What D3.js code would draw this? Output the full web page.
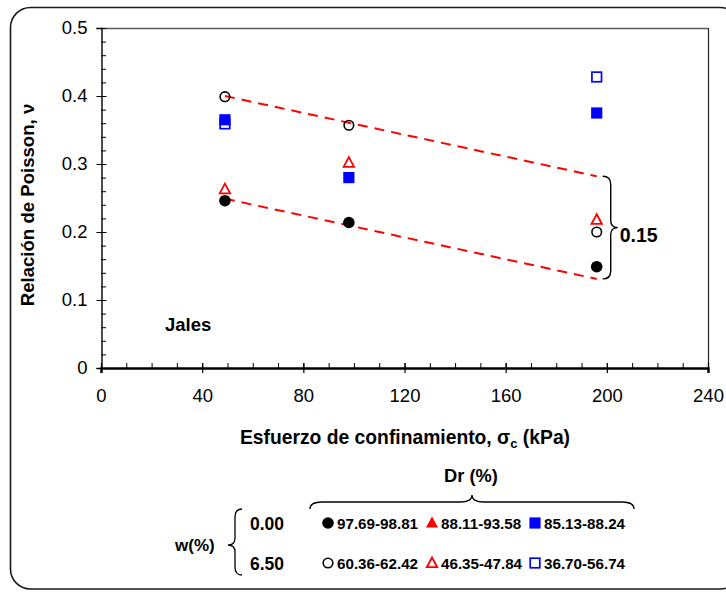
<!DOCTYPE html>
<html><head><meta charset="utf-8">
<script src="https://cdn.jsdelivr.net/npm/d3@7"></script>
<style>
html,body{margin:0;padding:0;background:#fff;}
svg{display:block;font-family:"Liberation Sans",Arial,sans-serif;}
</style></head>
<body><svg id="c" width="726" height="592"></svg>
<script>
// ---- data ----
const xTicks = [0, 40, 80, 120, 160, 200, 240];
const yTicks = [0, 0.1, 0.2, 0.3, 0.4, 0.5];
const sigma = [49, 98, 196];
const s_fillCircle = [0.246, 0.214, 0.149];      // w 0.00, Dr 97.69-98.81
const s_fillTri = [null, null, null];            // w 0.00, Dr 88.11-93.58 (not plotted)
const s_fillSquare = [0.365, 0.280, 0.375];      // w 0.00, Dr 85.13-88.24
const s_openCircle = [0.399, 0.357, 0.200];      // w 6.50, Dr 60.36-62.42
const s_openTri = [0.263, 0.302, 0.218];         // w 6.50, Dr 46.35-47.84
const s_openSquare = [0.359, null, 0.428];       // w 6.50, Dr 36.70-56.74
const trendUpper = [[49, 0.400], [196, 0.282]];
const trendLower = [[49, 0.249], [196, 0.131]];
const bracketLabel = "0.15";
const wLabels = ["0.00", "6.50"];
const drLabels = [["97.69-98.81", "88.11-93.58", "85.13-88.24"],
                  ["60.36-62.42", "46.35-47.84", "36.70-56.74"]];

const svg = d3.select("#c");
const L = 101, R = 708, T = 28, B = 368;
const x = d3.scaleLinear().domain([0, 240]).range([L, R]);
const y = d3.scaleLinear().domain([0, 0.5]).range([B, T]);

// outer rounded border
svg.append("rect").attr("x", 10.5).attr("y", 7.5).attr("width", 730).attr("height", 581.5)
  .attr("rx", 20).attr("fill", "none").attr("stroke", "#1a1a1a").attr("stroke-width", 1.6);

// plot frame (top & right)
svg.append("line").attr("x1", L).attr("x2", R).attr("y1", T + 0.5).attr("y2", T + 0.5)
  .attr("stroke", "#5a5a5a").attr("stroke-width", 1.4);
svg.append("line").attr("x1", R + 0.5).attr("x2", R + 0.5).attr("y1", T).attr("y2", B)
  .attr("stroke", "#222").attr("stroke-width", 1.2);

// minor ticks
const yMinor = d3.range(0, 0.5001, 0.02);
svg.append("g").attr("transform", `translate(${L},0)`)
  .call(d3.axisRight(y).tickValues(yMinor).tickSize(5).tickFormat(""))
  .call(g => { g.select(".domain").remove(); g.selectAll("line").attr("stroke", "#000"); });
const xMinor = d3.range(0, 240.01, 10);
svg.append("g").attr("transform", `translate(0,${B})`)
  .call(d3.axisTop(x).tickValues(xMinor).tickSize(5).tickFormat(""))
  .call(g => { g.select(".domain").remove(); g.selectAll("line").attr("stroke", "#000"); });

// major y axis
svg.append("g").attr("transform", `translate(${L + 0.5},0)`)
  .call(d3.axisLeft(y).tickValues(yTicks).tickSize(5).tickPadding(9)
    .tickFormat(d => d === 0 ? "0" : d3.format(".1f")(d)))
  .call(g => {
    g.select(".domain").attr("stroke", "#000").attr("stroke-width", 1.4);
    g.selectAll(".tick line").attr("x1", 5).attr("stroke", "#000");
    g.selectAll(".tick text").attr("font-size", 18.5).attr("fill", "#000")
      .attr("font-family", "Liberation Sans, Arial, sans-serif");
  });
// major x axis
svg.append("g").attr("transform", `translate(0,${B})`)
  .call(d3.axisBottom(x).tickValues(xTicks).tickSize(5).tickPadding(16))
  .call(g => {
    g.select(".domain").attr("stroke", "#000").attr("stroke-width", 2.4);
    g.selectAll(".tick line").attr("y1", -5).attr("stroke", "#000").attr("stroke-width", 1.2);
    g.selectAll(".tick text").attr("font-size", 18.5).attr("fill", "#000")
      .attr("font-family", "Liberation Sans, Arial, sans-serif");
  });

// axis titles
svg.append("text").attr("transform", `translate(34,205) rotate(-90)`)
  .attr("text-anchor", "middle").attr("font-size", 18.6).attr("font-weight", "bold")
  .text("Relación de Poisson, ν");
const xt = svg.append("text").attr("x", 405).attr("y", 444).attr("text-anchor", "middle")
  .attr("font-size", 19.3).attr("font-weight", "bold");
xt.append("tspan").text("Esfuerzo de confinamiento, σ");
xt.append("tspan").attr("font-size", 13).attr("dy", 4).text("c");
xt.append("tspan").attr("dy", -4).text(" (kPa)");

svg.append("text").attr("x", 165).attr("y", 331).attr("font-size", 18.5).attr("font-weight", "bold").text("Jales");

// trend lines
const line = d3.line().x(d => x(d[0])).y(d => y(d[1]));
[trendUpper, trendLower].forEach(t => {
  svg.append("path").attr("d", line(t)).attr("fill", "none").attr("stroke", "#ff0000")
    .attr("stroke-width", 2).attr("stroke-dasharray", "10,7");
});

// bracket for 0.15
{
  const xb = x(trendUpper[1][0]) + 6, yt = y(trendUpper[1][1]), yb = y(trendLower[1][1]);
  const ym = (yt + yb) / 2, w = 8;
  svg.append("path").attr("fill", "none").attr("stroke", "#000").attr("stroke-width", 1.4)
    .attr("d", `M${xb},${yt} Q${xb + w},${yt} ${xb + w},${yt + 8} L${xb + w},${ym - 7} Q${xb + w},${ym} ${xb + w + 7},${ym} Q${xb + w},${ym} ${xb + w},${ym + 7} L${xb + w},${yb - 8} Q${xb + w},${yb} ${xb},${yb}`);
  svg.append("text").attr("x", xb + w + 9).attr("y", ym + 14).attr("font-size", 19.5)
    .attr("font-weight", "bold").text(bracketLabel);
}

// markers
function drawMarker(g, kind, cx, cy) {
  const s = g.append("g").attr("transform", `translate(${cx},${cy})`);
  if (kind === "fc") s.append("circle").attr("r", 5.8).attr("fill", "#000");
  if (kind === "oc") s.append("circle").attr("r", 4.8).attr("fill", "none").attr("stroke", "#000").attr("stroke-width", 1.6);
  if (kind === "fs") s.append("rect").attr("x", -5.6).attr("y", -5.6).attr("width", 11.2).attr("height", 11.2).attr("fill", "#0000ff");
  if (kind === "os") s.append("rect").attr("x", -4.8).attr("y", -4.8).attr("width", 9.6).attr("height", 9.6).attr("fill", "none").attr("stroke", "#0000ff").attr("stroke-width", 1.7);
  if (kind === "ft") s.append("path").attr("d", "M0,-6.5 L6,4.5 L-6,4.5 Z").attr("fill", "#ff0000");
  if (kind === "ot") s.append("path").attr("d", "M0,-5.5 L5.2,4.2 L-5.2,4.2 Z").attr("fill", "none").attr("stroke", "#ff0000").attr("stroke-width", 1.8);
}
const mg = svg.append("g");
const series = [["os", s_openSquare], ["oc", s_openCircle], ["ot", s_openTri],
                ["fs", s_fillSquare], ["ft", s_fillTri], ["fc", s_fillCircle]];
series.forEach(([k, vals]) => {
  vals.forEach((v, i) => { if (v != null) drawMarker(mg, k, x(sigma[i]), y(v)); });
});

// legend
svg.append("text").attr("x", 471).attr("y", 482).attr("text-anchor", "middle")
  .attr("font-size", 18.3).attr("font-weight", "bold").text("Dr (%)");
svg.append("path").attr("fill", "none").attr("stroke", "#000").attr("stroke-width", 1.3)
  .attr("d", "M310,509 Q310,502 322,502 L460,502 Q472,502 472,495 Q472,502 484,502 L622,502 Q634,502 634,509");
svg.append("path").attr("fill", "none").attr("stroke", "#000").attr("stroke-width", 1.3)
  .attr("d", "M242,509 Q235,509 235,517 L235,538 Q235,545 228,545 Q235,545 235,552 L235,567 Q235,575 242,575");
svg.append("text").attr("x", 175).attr("y", 551).attr("font-size", 17).attr("font-weight", "bold").text("w(%)");
const rowsY = [523, 563];
wLabels.forEach((t, i) => {
  svg.append("text").attr("x", 250).attr("y", rowsY[i] + 6.5).attr("font-size", 17.5)
    .attr("font-weight", "bold").text(t);
});
const legKinds = [["fc", "ft", "fs"], ["oc", "ot", "os"]];
const colX = [328, 432, 535];
drLabels.forEach((row, r) => {
  row.forEach((t, c) => {
    drawMarker(svg, legKinds[r][c], colX[c], rowsY[r]);
    svg.append("text").attr("x", colX[c] + 9).attr("y", rowsY[r] + 5.5).attr("font-size", 15.2)
      .attr("font-weight", "bold").text(t);
  });
});
</script></body></html>
